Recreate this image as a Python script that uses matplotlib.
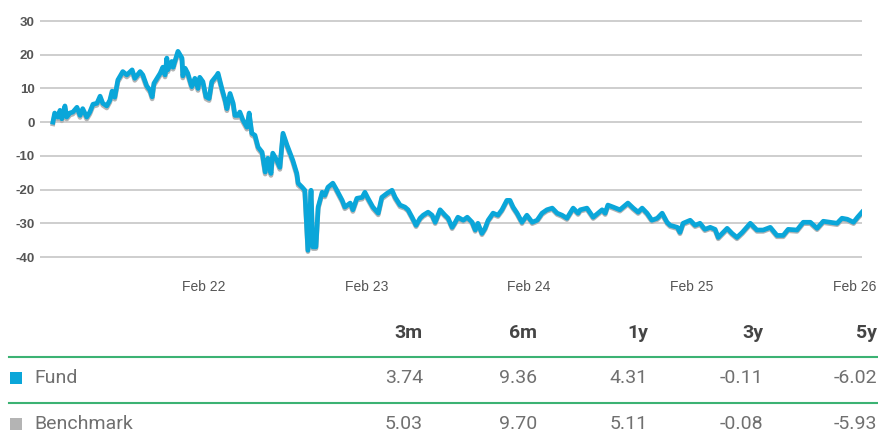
import numpy as np
import matplotlib
matplotlib.use("Agg")
import matplotlib.pyplot as plt
from matplotlib.lines import Line2D
from matplotlib.patches import Rectangle
from matplotlib.ticker import FuncFormatter

# ---------------- data ----------------
start_date = "2021-02-26"
days = [0, 4, 11, 16, 20, 27, 31, 38, 45, 54,
        61, 67, 76, 83, 90, 99, 106, 112, 121, 128,
        133, 139, 146, 157, 166, 178, 184, 196, 202, 211,
        218, 223, 227, 234, 241, 247, 252, 256, 258, 267,
        270, 281, 290, 292, 297, 303, 312, 319, 326, 330,
        337, 344, 351, 357, 369, 371, 380, 387, 391, 398,
        405, 409, 416, 420, 427, 436, 441, 447, 454, 461,
        470, 477, 483, 490, 494, 503, 510, 517, 526, 533,
        539, 548, 551, 560, 566, 573, 580, 584, 591, 596,
        605, 611, 618, 629, 638, 650, 656, 668, 674, 683,
        695, 701, 708, 719, 731, 739, 751, 762, 769, 780,
        791, 798, 807, 816, 825, 832, 843, 852, 859, 870,
        881, 888, 897, 904, 910, 922, 931, 942, 949, 955,
        964, 971, 978, 989, 1000, 1009, 1020, 1027, 1034, 1043,
        1054, 1065, 1077, 1088, 1099, 1110, 1122, 1133, 1144, 1155,
        1169, 1180, 1185, 1200, 1214, 1234, 1241, 1247, 1259, 1274,
        1292, 1304, 1315, 1324, 1335, 1346, 1358, 1369, 1380, 1387,
        1403, 1409, 1416, 1432, 1443, 1454, 1465, 1477, 1488, 1495,
        1515, 1526, 1537, 1549, 1567, 1582, 1596, 1612, 1627, 1641,
        1652, 1672, 1686, 1702, 1717, 1731, 1746, 1762, 1773, 1785,
        1799, 1808, 1818]

fund = [0.0, 2.7, 1.5, 3.5, 1.0, 4.8, 1.5, 2.7, 3.0, 4.4,
        2.0, 4.0, 1.5, 3.0, 5.3, 5.6, 7.7, 5.6, 4.8, 6.5,
        9.2, 7.4, 12.5, 15.0, 14.0, 15.5, 13.0, 15.0, 14.0, 10.7,
        9.5, 7.5, 11.5, 13.0, 14.5, 16.3, 14.0, 19.0, 15.5, 18.0,
        16.3, 21.0, 19.0, 13.7, 16.0, 14.5, 10.5, 13.0, 10.0, 13.3,
        12.0, 7.5, 7.0, 12.0, 14.0, 14.5, 9.8, 6.5, 4.0, 8.5,
        5.6, 2.0, 2.0, 3.0, 0.6, -1.5, 2.7, -3.3, -3.9, -7.4,
        -8.9, -14.8, -10.7, -15.2, -9.2, -11.3, -13.4, -3.3, -6.8, -9.2,
        -11.3, -15.2, -18.1, -19.3, -20.2, -38.0, -20.2, -37.0, -37.0, -25.2,
        -20.8, -21.7, -19.3, -18.1, -20.2, -23.2, -25.2, -24.0, -26.0, -22.6,
        -22.3, -20.8, -22.6, -25.2, -27.0, -22.3, -21.1, -20.2, -22.3, -24.6,
        -25.2, -26.0, -28.2, -30.6, -28.5, -27.6, -26.7, -27.6, -29.7, -26.0,
        -27.6, -28.5, -31.2, -29.7, -28.2, -29.1, -28.2, -29.7, -32.0, -30.0,
        -33.0, -31.5, -29.1, -27.0, -27.6, -26.0, -23.2, -23.2, -25.2, -27.0,
        -29.7, -27.6, -29.7, -29.1, -27.0, -26.0, -25.5, -27.0, -27.6, -28.5,
        -25.5, -27.0, -26.0, -25.5, -28.2, -26.0, -27.0, -24.6, -25.2, -26.0,
        -24.0, -25.5, -26.7, -25.5, -27.0, -29.1, -28.5, -27.0, -29.7, -30.6,
        -31.2, -32.7, -30.0, -29.1, -30.6, -30.0, -31.8, -31.2, -31.8, -34.2,
        -31.5, -33.0, -34.2, -32.7, -30.0, -32.0, -32.0, -31.2, -33.6, -33.6,
        -31.8, -32.0, -29.7, -29.7, -31.5, -29.4, -29.7, -30.0, -28.5, -28.8,
        -29.7, -28.2, -26.7]

benchmark = [-0.5, 2.1, 0.9, 2.9, 0.4, 4.2, 0.9, 2.1, 2.4, 3.8,
             1.4, 3.4, 0.9, 2.4, 4.7, 5.0, 7.1, 5.0, 4.2, 5.9,
             8.6, 6.8, 11.9, 14.4, 13.4, 14.9, 12.4, 14.4, 13.4, 10.1,
             8.9, 6.9, 10.9, 12.4, 13.9, 15.7, 13.4, 18.4, 14.9, 17.4,
             15.7, 20.4, 18.4, 13.1, 15.4, 13.9, 9.9, 12.4, 9.4, 12.7,
             11.4, 6.9, 6.4, 11.4, 13.4, 13.9, 9.2, 5.9, 3.4, 7.9,
             5.0, 1.4, 1.4, 2.4, 0.0, -2.1, 2.1, -3.9, -4.5, -8.0,
             -9.5, -15.4, -11.3, -15.8, -9.8, -11.9, -14.0, -3.9, -7.4, -9.8,
             -11.9, -15.8, -18.7, -19.8, -20.7, -38.4, -20.7, -37.5, -37.5, -25.7,
             -21.3, -22.2, -19.8, -18.6, -20.7, -23.7, -25.7, -24.5, -26.5, -23.1,
             -22.8, -21.3, -23.1, -25.7, -27.5, -22.8, -21.6, -20.7, -22.8, -25.1,
             -25.6, -26.4, -28.6, -31.0, -28.9, -28.0, -27.1, -28.0, -30.1, -26.4,
             -28.0, -28.9, -31.6, -30.1, -28.6, -29.5, -28.6, -30.1, -32.4, -30.4,
             -33.4, -31.9, -29.5, -27.4, -28.0, -26.4, -23.6, -23.6, -25.6, -27.4,
             -30.1, -28.0, -30.1, -29.5, -27.4, -26.4, -25.9, -27.4, -28.0, -28.9,
             -25.9, -27.4, -26.4, -25.9, -28.6, -26.4, -27.4, -25.0, -25.6, -26.4,
             -24.4, -25.9, -27.1, -25.9, -27.4, -29.5, -28.9, -27.4, -30.1, -31.0,
             -31.6, -33.1, -30.4, -29.5, -31.0, -30.4, -32.2, -31.6, -32.2, -34.6,
             -31.9, -33.4, -34.6, -33.1, -30.4, -32.4, -32.4, -31.6, -34.0, -34.0,
             -32.2, -32.4, -30.1, -30.1, -31.9, -29.8, -30.1, -30.4, -28.9, -29.2,
             -30.1, -28.6, -27.1]

tick_dates = ["2022-02-01", "2023-02-01", "2024-02-01", "2025-02-01", "2026-02-01"]
tick_labels = ["Feb 22", "Feb 23", "Feb 24", "Feb 25", "Feb 26"]
y_ticks = [-40, -30, -20, -10, 0, 10, 20, 30]

periods = ["3m", "6m", "1y", "3y", "5y"]
series_names = ["Fund", "Benchmark"]
fund_perf = ["3.74", "9.36", "4.31", "-0.11", "-6.02"]
bench_perf = ["5.03", "9.70", "5.11", "-0.08", "-5.93"]

# ---------------- style ----------------
W, H = 879, 443
BLUE = "#0aa6d9"
GRAY = "#b4b4b4"
GREEN = "#3bb273"

fig = plt.figure(figsize=(W / 100, H / 100), dpi=100)

def fx(x):
    return x / W

def fy(y):
    return 1 - y / H

y_lo, y_hi = -42, 32
ppu = (257 - 21) / 70.0
top_px = 21 - (y_hi - 30) * ppu
bot_px = 257 + (-40 - y_lo) * ppu
ax = fig.add_axes([fx(40), fy(bot_px), fx(862) - fx(40), fy(top_px) - fy(bot_px)])

t0 = np.datetime64(start_date)
x = t0 + np.array(days, dtype="timedelta64[D]")

ax.plot(x, benchmark, color=GRAY, lw=3.4, solid_joinstyle="round", zorder=2)
ax.plot(x, fund, color=BLUE, lw=3.4, solid_joinstyle="round", zorder=3)

ax.set_ylim(y_lo, y_hi)
ax.set_xlim(t0 - np.timedelta64(29, "D"), x[-1])
ax.set_yticks(y_ticks)
ax.yaxis.set_major_formatter(FuncFormatter(lambda v, p: f"{int(v)}"))
ax.set_xticks([np.datetime64(d) for d in tick_dates])
ax.set_xticklabels(tick_labels)

ax.grid(axis="y", color="#c6c6c6", lw=1.2)
ax.set_axisbelow(True)
for s in ax.spines.values():
    s.set_visible(False)
ax.tick_params(axis="both", length=0)
ax.tick_params(axis="y", pad=4, labelsize=9.5, labelcolor="#555555")
ax.tick_params(axis="x", pad=12, labelsize=10, labelcolor="#555555")
for lab in ax.get_yticklabels():
    lab.set_fontfamily("Liberation Sans")
    lab.set_fontweight("bold")
for lab in ax.get_xticklabels():
    lab.set_fontfamily("Liberation Sans")

# ---------------- table ----------------
col_right = [423, 537, 648, 763, 877]
header_y = 333
row_y = [378, 424]
line_y = [357, 403]
TFONT = "Roboto"

for cx, p in zip(col_right, periods):
    fig.text(fx(cx), fy(header_y), p, ha="right", va="center", fontsize=14,
             fontweight="bold", color="#454545", family=TFONT)

for ly in line_y:
    fig.add_artist(Line2D([fx(9), fx(879)], [fy(ly), fy(ly)], color=GREEN, lw=1.5))

for ry, name, vals, col in zip(row_y, series_names, [fund_perf, bench_perf], [BLUE, GRAY]):
    fig.add_artist(Rectangle((fx(10), fy(ry + 6)), fx(12), 12 / H, color=col, lw=0))
    fig.text(fx(34), fy(ry), name, ha="left", va="center", fontsize=14,
             fontweight="normal", color="#707070", family=TFONT)
    for cx, v in zip(col_right, vals):
        fig.text(fx(cx), fy(ry), v, ha="right", va="center", fontsize=14,
                 fontweight="normal", color="#707070", family=TFONT)

fig.savefig("out.png", dpi=100)
